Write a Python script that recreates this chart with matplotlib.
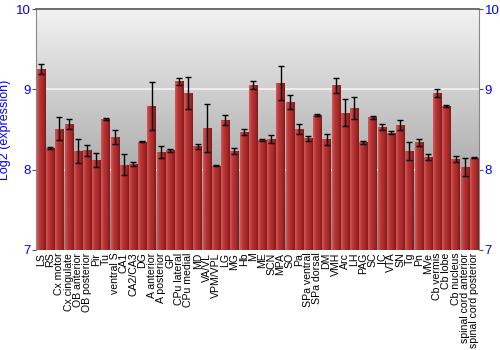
import numpy as np
import matplotlib
matplotlib.use("Agg")
import matplotlib.pyplot as plt
from matplotlib.colors import LinearSegmentedColormap

plt.rcParams['font.family'] = ['Liberation Sans', 'DejaVu Sans']

# regions and log2 expression values
regions = ["LS", "RS", "Cx motor", "Cx cingulate", "OB anterior", "OB posterior",
           "Pir", "Tu", "ventral S", "CA1", "CA2/CA3", "DG", "A anterior",
           "A posterior", "GP", "CPu lateral", "CPu medial", "MD", "VA/VL",
           "VPM/VPL", "LG", "MG", "Hb", "M", "ME", "SCN", "MPA", "SO", "Pa",
           "SPa ventral", "SPa dorsal", "DM", "VMH", "Arc", "LH", "PAG", "SC",
           "IC", "VTA", "SN", "Tg", "Pn", "MVe", "Cb vermis", "Cb lobe",
           "Cb nucleus", "spinal cord anterior", "spinal cord posterior"]
values = [9.25, 8.27, 8.51, 8.57, 8.23, 8.24, 8.12, 8.63, 8.41, 8.06, 8.07, 8.35,
          8.79, 8.22, 8.24, 9.10, 8.96, 8.29, 8.52, 8.05, 8.62, 8.23, 8.47, 9.05,
          8.37, 8.38, 9.08, 8.84, 8.51, 8.39, 8.68, 8.38, 9.05, 8.71, 8.77, 8.34,
          8.65, 8.53, 8.46, 8.56, 8.23, 8.34, 8.16, 8.95, 8.79, 8.13, 8.03, 8.15]
errors = [0.06, 0.01, 0.14, 0.06, 0.15, 0.07, 0.09, 0.01, 0.09, 0.13, 0.02, 0.01,
          0.30, 0.08, 0.02, 0.04, 0.20, 0.03, 0.30, 0.01, 0.06, 0.04, 0.04, 0.05,
          0.01, 0.05, 0.21, 0.09, 0.06, 0.035, 0.015, 0.07, 0.09, 0.17, 0.14, 0.02,
          0.015, 0.04, 0.02, 0.06, 0.11, 0.04, 0.035, 0.05, 0.01, 0.04, 0.11, 0.01]

fig = plt.figure(figsize=(5, 3.5), dpi=100)
ax = fig.add_axes([0.072, 0.286, 0.886, 0.688])

x = np.arange(len(regions))
xlo, xhi = -0.55, len(regions) - 0.45

# grey vertical gradient behind the bars, light at the top
bg = LinearSegmentedColormap.from_list("bg", ["#f2f2f2", "#8c8c8c"])
ax.imshow(np.linspace(1, 0, 256).reshape(-1, 1), cmap=bg, aspect="auto",
          extent=[xlo, xhi, 7, 10], zorder=0, origin="lower")

for yv in [8, 9]:
    ax.axhline(yv, color="#f4f4f4", lw=1.2, zorder=1)

bars = ax.bar(x, [v - 7 for v in values], bottom=7, width=0.9,
              color="none", edgecolor="none", zorder=2)

# red cylinder look for every bar
red = LinearSegmentedColormap.from_list("red", ["#d25a5a", "#b83434", "#a82a2a", "#7e1a1a"])
grad = np.linspace(0, 1, 64).reshape(1, -1)
for b in bars:
    x0, w, h = b.get_x(), b.get_width(), b.get_height()
    im = ax.imshow(grad, cmap=red, aspect="auto", origin="lower",
                   extent=[x0, x0 + w, 7, 7 + h], zorder=2)
    im.set_clip_path(b)

ax.errorbar(x, values, yerr=errors, fmt="none", ecolor="black", elinewidth=1,
            capsize=2, capthick=1, zorder=3)

ax.set_xlim(xlo, xhi)
ax.set_ylim(7, 10)

ax.set_xticks(x)
ax.set_xticklabels(regions, rotation=90, fontsize=7.6)
ax.tick_params(axis="x", length=0, pad=2)

ax.set_yticks([7, 8, 9, 10])
ax.tick_params(axis="y", which="both", direction="out", length=3, pad=1,
               labelsize=9.5, labelcolor="blue", color="#555555", left=True,
               right=True, labelleft=True, labelright=True)
ax.set_ylabel("Log2 (expression)", color="blue", fontsize=9, labelpad=3)

for side in ["left", "right"]:
    ax.spines[side].set_color("#888888")
ax.spines["top"].set_color("#555555")
ax.spines["top"].set_linewidth(1.2)
ax.spines["bottom"].set_visible(False)

fig.savefig("out.png", dpi=100)
